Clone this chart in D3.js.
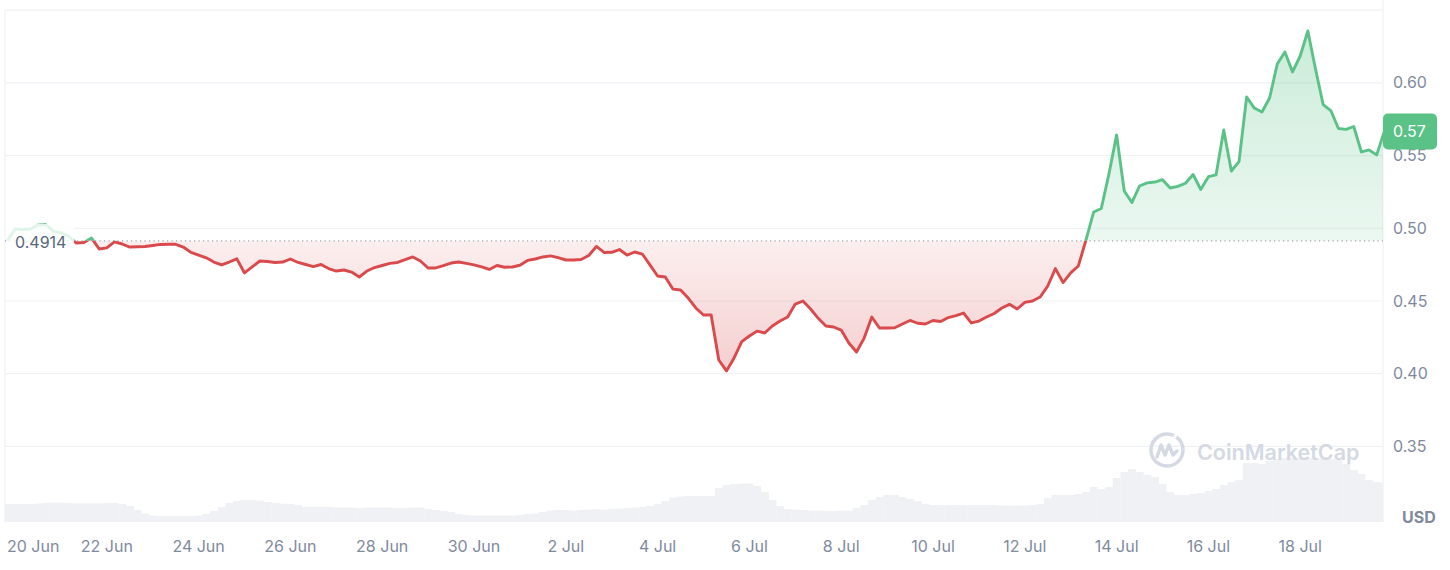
<!DOCTYPE html>
<html><head><meta charset="utf-8">
<script src="https://cdn.jsdelivr.net/npm/d3@7"></script>
<style>
body{margin:0;background:#fff;}
svg{display:block;font-family:Inter,"Noto Sans",sans-serif;}
</style>
</head><body>
<svg id="chart" width="1450" height="570"></svg>
<script>
// ---------- DATA ----------
const startTime = "2024-06-19T20:00:00Z";
const stepHours = 4;
const prices = [
0.4914,0.4995,0.4992,0.4995,0.5023,0.5026,0.4981,0.4968,0.4947,0.4899,
0.4902,0.4933,0.4858,0.4865,0.4906,0.4892,0.4871,0.4873,0.4875,0.4882,
0.4889,0.4890,0.4890,0.4871,0.4834,0.4816,0.4797,0.4768,0.4748,0.4768,
0.4790,0.4693,0.4734,0.4775,0.4772,0.4765,0.4768,0.4789,0.4765,0.4751,
0.4737,0.4751,0.4723,0.4706,0.4713,0.4699,0.4665,0.4706,0.4730,0.4744,
0.4759,0.4765,0.4785,0.4803,0.4775,0.4727,0.4727,0.4744,0.4761,0.4768,
0.4759,0.4748,0.4734,0.4717,0.4744,0.4732,0.4734,0.4746,0.4779,0.4789,
0.4803,0.4810,0.4798,0.4782,0.4782,0.4785,0.4813,0.4875,0.4834,0.4835,
0.4854,0.4816,0.4837,0.4823,0.4748,0.4672,0.4665,0.4582,0.4576,0.4520,
0.4452,0.4404,0.4404,0.4094,0.4019,0.4108,0.4220,0.4259,0.4293,0.4280,
0.4328,0.4362,0.4390,0.4479,0.4500,0.4445,0.4381,0.4328,0.4321,0.4300,
0.4211,0.4149,0.4245,0.4390,0.4314,0.4314,0.4316,0.4342,0.4366,0.4347,
0.4342,0.4366,0.4359,0.4386,0.4400,0.4417,0.4349,0.4362,0.4390,0.4414,
0.4452,0.4477,0.4445,0.4490,0.4500,0.4527,0.4603,0.4723,0.4627,0.4693,
0.4741,0.4920,0.5112,0.5136,0.5374,0.5642,0.5257,0.5177,0.5291,0.5312,
0.5318,0.5334,0.5277,0.5288,0.5310,0.5370,0.5267,0.5355,0.5367,0.5676,
0.5394,0.5459,0.5903,0.5827,0.5800,0.5896,0.6130,0.6213,0.6075,0.6185,
0.6357,0.6096,0.5851,0.5810,0.5686,0.5680,0.5700,0.5525,0.5539,0.5505,
0.5666
];
// 24h-style volume, millions USD
const volumes = [
90,90,90,90,92,95,97,97,95,92,
92,92,92,95,95,90,80,60,42,32,
30,30,30,30,30,32,40,55,75,95,
105,110,110,107,100,95,92,90,85,75,
75,75,75,72,72,72,70,72,72,72,
72,70,70,72,72,65,60,55,50,40,
35,32,32,32,32,32,32,35,40,42,
50,57,60,60,57,60,62,65,62,65,
67,70,72,75,80,90,105,122,127,130,
130,130,130,170,185,190,192,192,180,150,
110,80,65,62,60,57,57,55,55,57,
57,70,85,110,125,135,135,125,115,105,
90,85,85,85,85,85,85,85,85,85,
82,82,82,82,85,90,120,135,135,135,
140,150,175,165,175,220,250,265,250,235,
225,190,150,135,135,140,145,155,165,185,
200,210,295,295,290,305,315,320,320,320,
320,320,320,315,310,290,260,240,210,200,
195
];
const baselinePrice = 0.4914;
const baselineLabel = "0.4914";
const lastPriceLabel = "0.57";
const yTickValues = [0.35, 0.40, 0.45, 0.50, 0.55, 0.60];
const yTickLabels = ["0.35", "0.40", "0.45", "0.50", "0.55", "0.60"];
const gridValues = [0.35, 0.40, 0.45, 0.50, 0.55, 0.60, 0.65];
const xTickDates = ["2024-06-20","2024-06-22","2024-06-24","2024-06-26","2024-06-28","2024-06-30",
  "2024-07-02","2024-07-04","2024-07-06","2024-07-08","2024-07-10","2024-07-12","2024-07-14","2024-07-16","2024-07-18"];
const xTickLabels = ["20 Jun","22 Jun","24 Jun","26 Jun","28 Jun","30 Jun",
  "2 Jul","4 Jul","6 Jul","8 Jul","10 Jul","12 Jul","14 Jul","16 Jul","18 Jul"];
const unitLabel = "USD";
const watermarkText = "CoinMarketCap";

// ---------- LAYOUT ----------
const svg = d3.select("#chart");
const pLeft = 5, pRight = 1383, pTop = 10.2, pBottom = 522;
const green = "#5ac286", red = "#da4a4c", axisColor = "#808a9d", gridColor = "#eff1f4";

const t0 = new Date(startTime).getTime();
const times = prices.map((_, i) => new Date(t0 + i * stepHours * 3600e3));

const x = d3.scaleUtc()
  .domain([new Date("2024-06-20T00:00:00Z"), new Date("2024-07-18T00:00:00Z")])
  .range([15, 1300.2]);
const y = d3.scaleLinear().domain([0.298, 0.65]).range([pBottom, pTop]);
const yVol = d3.scaleLinear().domain([0, 600]).range([pBottom, 402]);

const defs = svg.append("defs");
defs.append("clipPath").attr("id", "plotClip").append("rect")
  .attr("x", pLeft).attr("y", 0).attr("width", pRight - pLeft).attr("height", pBottom);
const yb = y(baselinePrice);
defs.append("clipPath").attr("id", "aboveClip").append("rect")
  .attr("x", pLeft).attr("y", 0).attr("width", pRight - pLeft).attr("height", yb);
defs.append("clipPath").attr("id", "belowClip").append("rect")
  .attr("x", pLeft).attr("y", yb).attr("width", pRight - pLeft).attr("height", pBottom - yb);

const gG = defs.append("linearGradient").attr("id", "gGrad").attr("gradientUnits", "userSpaceOnUse")
  .attr("x1", 0).attr("x2", 0).attr("y1", y(0.64)).attr("y2", yb);
gG.append("stop").attr("offset", 0).attr("stop-color", green).attr("stop-opacity", 0.32);
gG.append("stop").attr("offset", 1).attr("stop-color", green).attr("stop-opacity", 0.12);
const rG = defs.append("linearGradient").attr("id", "rGrad").attr("gradientUnits", "userSpaceOnUse")
  .attr("x1", 0).attr("x2", 0).attr("y1", yb).attr("y2", y(0.40));
rG.append("stop").attr("offset", 0).attr("stop-color", red).attr("stop-opacity", 0.09);
rG.append("stop").attr("offset", 1).attr("stop-color", red).attr("stop-opacity", 0.27);

// grid
svg.append("g").selectAll("line").data(gridValues).join("line")
  .attr("x1", pLeft).attr("x2", pRight)
  .attr("y1", d => y(d)).attr("y2", d => y(d))
  .attr("stroke", gridColor).attr("stroke-width", 1.2);
svg.append("line").attr("x1", pLeft).attr("x2", pLeft).attr("y1", y(0.65)).attr("y2", pBottom)
  .attr("stroke", gridColor).attr("stroke-width", 1.2);
svg.append("line").attr("x1", pRight).attr("x2", pRight).attr("y1", 0).attr("y2", pBottom)
  .attr("stroke", gridColor).attr("stroke-width", 1.2);

// volume
const stepPx = x(times[1]) - x(times[0]);
svg.append("g").attr("clip-path", "url(#plotClip)")
  .selectAll("rect").data(volumes).join("rect")
  .attr("x", (d, i) => x(times[i]) - stepPx / 2)
  .attr("width", stepPx + 0.3)
  .attr("y", d => yVol(d))
  .attr("height", d => pBottom - yVol(d))
  .attr("fill", "#eff1f4");

// watermark
const wm = svg.append("g").attr("transform", "translate(1167,450)");
wm.append("path")
  .attr("d", d3.arc()({innerRadius: 14.3, outerRadius: 17.8, startAngle: 0.2 * Math.PI, endAngle: 2.0 * Math.PI + 0.45}))
  .attr("fill", "#d4d9e4");
wm.append("path")
  .attr("d", "M-10,7 L-6,-5 L-2,5 L2,-5 L6,5 L10,1")
  .attr("fill", "none").attr("stroke", "#d4d9e4").attr("stroke-width", 3.4)
  .attr("stroke-linejoin", "round").attr("stroke-linecap", "round");
svg.append("text").attr("x", 1197).attr("y", 452).attr("dy", "0.35em")
  .attr("font-size", 21.5).attr("font-weight", 600).attr("fill", "#d4d9e4")
  .text(watermarkText);

// areas
const area = d3.area().x((d, i) => x(times[i])).y0(yb).y1(d => y(d));
const line = d3.line().x((d, i) => x(times[i])).y(d => y(d));
const plot = svg.append("g").attr("clip-path", "url(#plotClip)");
plot.append("g").attr("clip-path", "url(#aboveClip)").append("path")
  .attr("d", area(prices)).attr("fill", "url(#gGrad)");
plot.append("g").attr("clip-path", "url(#belowClip)").append("path")
  .attr("d", area(prices)).attr("fill", "url(#rGrad)");

// baseline dotted
plot.append("line").attr("x1", pLeft).attr("x2", pRight).attr("y1", yb).attr("y2", yb)
  .attr("stroke", "#9ea5b2").attr("stroke-width", 1.2).attr("stroke-dasharray", "1.2 3.3");

plot.append("g").attr("clip-path", "url(#aboveClip)").append("path")
  .attr("d", line(prices)).attr("fill", "none").attr("stroke", green)
  .attr("stroke-width", 2.9).attr("stroke-linejoin", "round");
plot.append("g").attr("clip-path", "url(#belowClip)").append("path")
  .attr("d", line(prices)).attr("fill", "none").attr("stroke", red)
  .attr("stroke-width", 2.9).attr("stroke-linejoin", "round");

// baseline label with translucent box
svg.append("rect").attr("x", pLeft + 1).attr("y", yb - 17).attr("width", 68).attr("height", 34)
  .attr("fill", "#fff").attr("opacity", 0.82);
svg.append("text").attr("x", 15).attr("y", yb + 2).attr("dy", "0.35em")
  .attr("font-size", 16).attr("fill", "#58667e").text(baselineLabel);

// y axis labels
svg.append("g").selectAll("text").data(yTickValues).join("text")
  .attr("x", 1393).attr("y", d => y(d)).attr("dy", "0.35em")
  .attr("font-size", 16).attr("fill", axisColor)
  .text((d, i) => yTickLabels[i]);

// price label
const lastY = y(prices[prices.length - 1]);
svg.append("rect").attr("x", pRight).attr("y", lastY - 18).attr("width", 54).attr("height", 36)
  .attr("rx", 5).attr("fill", green);
svg.append("text").attr("x", 1393).attr("y", lastY).attr("dy", "0.35em")
  .attr("font-size", 16).attr("fill", "#fff").text(lastPriceLabel);

// x axis labels
const xl = svg.append("g").selectAll("text").data(xTickDates).join("text")
  .attr("x", d => x(new Date(d + "T00:00:00Z"))).attr("y", 546).attr("dy", "0.35em")
  .attr("text-anchor", "middle").attr("font-size", 16).attr("fill", axisColor)
  .text((d, i) => xTickLabels[i]);
xl.each(function() {
  const w = this.getComputedTextLength();
  const cx = +this.getAttribute("x");
  if (cx - w / 2 < 7) { d3.select(this).attr("text-anchor", "start").attr("x", 7); }
});

// unit
svg.append("text").attr("x", 1402).attr("y", 517).attr("dy", "0.35em")
  .attr("font-size", 16).attr("font-weight", 700).attr("fill", axisColor).text(unitLabel);
</script>
</body></html>
